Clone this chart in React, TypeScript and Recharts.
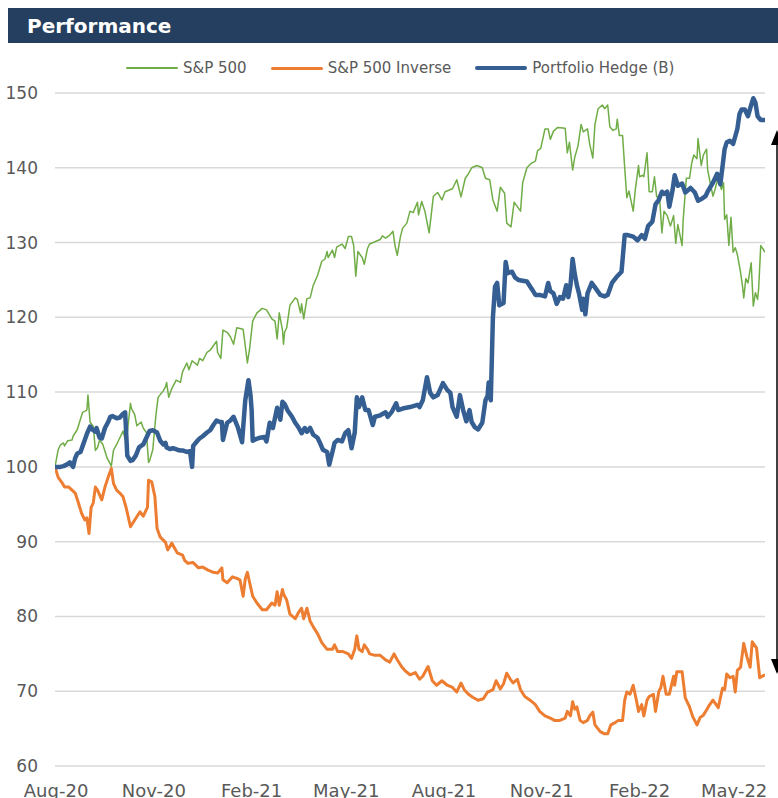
import { CartesianGrid, Line, LineChart, XAxis, YAxis } from "recharts";

// day offset from 31 Jul 2020, value rebased to 100
const spx: [number, number][] = [
  [0,100],[3,102.3],[5,102.9],[8,103.2],[9,102.8],[12,103.5],[16,103.6],[17,104.1],[21,105],[24,106.4],[26,107.3],[30,107.6],[31,109.6],[33,106],[36,105.4],[38,102.2],[40,102.6],[42,103.6],[45,103],[49,101.2],[53,100.1],[55,102.2],[58,103],[61,103.9],[64,104.8],[67,103.2],[71,108.5],[72,107.8],[75,107],[77,105.5],[81,106],[83,105.2],[86,104.6],[88,100.6],[89,100.8],[92,102.3],[95,107],[97,109.3],[102,110.2],[104,110.7],[105,111.3],[107,109.3],[110,110.5],[114,111.6],[118,111.3],[120,112.7],[124,113.9],[126,113],[129,114.2],[134,113.6],[136,114.5],[139,114.2],[143,115.3],[146,115.6],[149,116.2],[152,116.8],[153,115.3],[156,114.5],[158,118.3],[162,118],[165,117.4],[168,116.4],[171,118.6],[177,118.4],[179,116.2],[181,113.9],[183,115.7],[186,119.5],[190,120.6],[195,121.2],[199,121],[204,119.8],[207,119.5],[209,117.1],[211,120.6],[214,118.3],[215,116.4],[216,118],[218,118.6],[221,121.6],[226,122.6],[228,122.4],[231,120.6],[232,121.8],[234,119.8],[237,122.5],[240,122.6],[243,124.3],[247,125.6],[251,127.5],[254,127.8],[256,128.8],[257,128],[261,129],[263,128],[265,129.4],[270,129.8],[273,129.2],[276,130.8],[279,130.8],[281,129.6],[283,125.5],[285,128.8],[289,128],[291,127.1],[294,129.2],[296,129.8],[301,130.1],[306,130.4],[308,130.9],[311,130.6],[315,131],[318,131.5],[320,129.5],[322,128.3],[325,130.8],[327,131.9],[331,132.6],[334,134.2],[337,134],[341,135.4],[342,133.7],[345,135.5],[348,134.2],[352,131.3],[356,136.2],[360,136.7],[364,135.7],[367,136.8],[374,137.2],[378,138.4],[382,136.1],[386,138.6],[389,139.2],[392,140],[397,140.3],[402,140],[405,138.6],[409,138.4],[412,135.7],[416,134.2],[419,137.4],[423,136.6],[425,132.6],[429,132.1],[432,135.4],[438,134.2],[440,138],[444,140],[448,140.6],[452,140.9],[454,142.3],[457,142.6],[461,145.2],[464,145.2],[466,143.8],[469,144.9],[473,145.4],[480,145.3],[482,142],[484,143.4],[487,139.7],[489,141.4],[492,142.9],[495,145.8],[497,144.8],[501,145.2],[503,143.2],[506,141.3],[508,145.8],[511,147.9],[515,148.4],[517,147.9],[520,148.4],[522,145.5],[525,145],[528,145.2],[529,146.5],[531,144.3],[534,144.3],[536,140],[538,136],[540,136.9],[544,134.2],[546,137.1],[549,140.3],[550,138.8],[553,139],[554,138.8],[557,142],[559,136.8],[562,136.8],[564,138.8],[566,136.2],[569,135.6],[571,131.3],[573,134.2],[576,133.6],[579,132.2],[582,133.6],[584,129.9],[586,132.4],[590,129.6],[591,133],[594,138.6],[597,138.6],[599,140.6],[601,141.7],[604,141.2],[605,143.9],[608,140.3],[610,141.7],[613,142.5],[614,139.8],[616,138.3],[619,136.2],[621,137.1],[624,138.8],[627,137.1],[629,138],[630,133.1],[632,133.7],[634,129.6],[636,133.4],[638,128.7],[640,129.3],[642,128.4],[645,126],[647,124],[648,122.6],[650,125.2],[652,124.6],[655,127.3],[657,121.5],[659,123.3],[661,122.4],[662,123.8],[664,129.6],[668,128.7],
];

const spxInverse: [number, number][] = [
  [0,100],[3,98.6],[7,97.8],[9,97.3],[13,97.3],[16,96.9],[19,96.5],[22,95.2],[25,93.8],[28,92.9],[30,93.2],[32,91.1],[34,94.6],[36,95.2],[38,97.3],[40,96.9],[44,95.6],[47,97.3],[50,98.6],[53,99.8],[55,97.8],[58,96.9],[61,96.5],[64,96],[67,94.5],[71,92],[75,92.9],[80,94],[83,93.4],[87,94.6],[88,98.2],[91,98],[94,96],[96,91.8],[99,90.6],[104,89.9],[106,88.9],[110,89.8],[115,88.5],[120,88.2],[122,87.5],[125,87.1],[130,87.2],[135,86.5],[139,86.6],[144,86.2],[149,85.9],[153,85.8],[157,86.5],[158,84.9],[162,84.5],[167,85.3],[171,85.1],[174,84.9],[177,82.7],[179,85],[181,85.9],[183,84.6],[186,82.7],[190,81.8],[195,80.9],[199,80.9],[204,81.8],[207,81.5],[209,83.3],[211,81.5],[214,83.6],[215,83],[218,82.2],[221,80.3],[226,79.7],[229,80.5],[232,81.1],[234,79.7],[237,81.1],[240,79.4],[243,78.6],[247,77.7],[251,76.5],[256,75.6],[261,75.6],[263,76.2],[266,75.3],[271,75.3],[276,75],[279,74.4],[282,75.6],[284,77.4],[286,75.6],[289,75.3],[291,76.2],[294,75.6],[296,75],[301,74.8],[306,74.8],[311,74.2],[315,73.9],[319,75],[322,74.2],[326,73.3],[329,72.8],[334,72.2],[339,72.5],[343,71.6],[346,72],[351,73.3],[355,71.4],[359,70.8],[364,71.4],[369,70.8],[374,70.5],[378,69.9],[382,71.1],[385,70.2],[389,69.6],[393,69.2],[398,68.8],[403,69],[407,69.9],[409,70],[412,70.2],[415,71.4],[419,70.3],[422,71],[425,72.4],[428,71.7],[431,71.1],[435,71.6],[438,70.2],[442,69.3],[447,68.8],[452,68.2],[456,67.3],[461,66.7],[466,66.4],[470,66.1],[475,66.1],[480,66.4],[482,67.3],[485,66.7],[487,68.6],[489,67.6],[491,67.9],[494,66.1],[497,65.8],[501,66.1],[503,66.7],[506,67.2],[508,65.5],[513,64.6],[517,64.3],[520,64.3],[523,65.5],[527,65.8],[530,66.1],[534,66.1],[536,68.8],[538,69.9],[541,69.6],[544,70.8],[547,68.8],[549,67.3],[552,68.2],[554,66.7],[557,68.8],[559,69.3],[563,69.6],[565,67.3],[568,69.9],[570,70.5],[572,72],[575,69.6],[578,69.6],[582,72],[583,70.8],[585,72.6],[590,72.6],[593,69.1],[597,67.9],[600,66.6],[604,65.5],[607,66.5],[610,66.8],[613,67.5],[615,68],[619,68.8],[624,67.8],[628,70.4],[630,70.2],[632,72.3],[635,71.8],[638,72],[640,69.9],[642,72.8],[645,73.2],[648,76.4],[651,74.6],[654,73.2],[656,76.6],[660,75.8],[663,71.8],[668,72.2],
];

const hedge: [number, number][] = [
  [0,100],[5,100],[8,100.1],[11,100.3],[14,100.6],[17,100],[19,101.2],[21,101.8],[24,102],[26,102.8],[30,104.4],[33,105.4],[35,105],[38,104.7],[39,105.2],[42,103.9],[44,103.8],[47,105.2],[50,106],[52,106.7],[54,106.8],[58,106.5],[61,106.6],[64,107.1],[66,107.3],[68,101.5],[71,100.8],[73,100.9],[76,101.5],[79,102.6],[83,103],[87,104.2],[89,104.8],[92,104.9],[96,104.6],[99,103.5],[102,103],[104,103.2],[105,102.6],[108,102.4],[111,102.5],[115,102.3],[118,102.2],[120,102.2],[124,102],[127,102.1],[129,100],[130,102.8],[134,103.5],[136,103.8],[139,104.1],[143,104.6],[146,104.9],[149,105.6],[152,106.2],[155,106],[157,106],[158,103.6],[162,105.9],[165,106.2],[168,106.7],[172,105.3],[176,103.3],[179,108.9],[182,111.6],[184,109.5],[185,107.6],[186,103.5],[189,103.7],[193,103.9],[197,104],[199,103.4],[202,105.9],[205,105.2],[209,107.9],[212,106.3],[214,108.7],[216,108.4],[219,107.5],[223,106.7],[226,105.9],[229,105.3],[232,104.5],[235,105.2],[237,104.7],[240,105.2],[243,104.3],[247,103.9],[249,103.3],[252,102.3],[256,102],[258,100.3],[261,102],[263,103.2],[266,103.6],[270,103.4],[273,104.5],[276,104.9],[279,102.5],[282,104.6],[284,109.3],[286,108],[289,109.3],[292,107.6],[295,107.6],[299,105.6],[301,106.7],[306,106.9],[311,107.3],[313,106.7],[317,107.4],[321,108.5],[323,107.6],[327,107.8],[334,108],[341,108.3],[343,108],[346,108.9],[350,112],[353,109.9],[356,109.3],[360,109.6],[365,111.2],[369,110.3],[372,109.9],[374,108],[378,106.7],[381,109.6],[384,107.6],[387,106.1],[390,107.6],[392,106],[395,105.3],[398,105],[402,105.9],[405,108.9],[407,109.5],[408,111.3],[410,108.9],[412,120],[414,124.1],[416,124.6],[418,121.6],[422,121.9],[424,127.4],[426,125.9],[430,126.1],[433,125.3],[436,125],[440,124.9],[444,124.8],[449,123.7],[452,123],[456,123],[461,122.8],[464,124.6],[466,123.5],[469,123.2],[472,121.8],[475,122.7],[478,122.5],[481,124.3],[483,122.7],[485,124.3],[487,127.8],[489,125.8],[491,124.3],[493,123.2],[496,121],[497,122.5],[499,120.4],[501,123.2],[505,124.6],[508,124],[513,123],[517,122.8],[520,123],[524,124.6],[529,125.5],[533,126.1],[536,131],[539,131],[544,130.8],[548,130.3],[552,131],[555,130.5],[558,132.2],[562,132.8],[565,135.1],[568,135.7],[571,136.8],[573,136.5],[576,136.8],[578,134.8],[581,137],[583,139],[586,137.6],[590,137.9],[593,136.7],[598,137.3],[602,136.7],[605,135.6],[609,135.9],[612,136.2],[614,136.8],[619,138],[623,139.2],[626,137.8],[629,141.3],[630,142.5],[632,143.4],[635,143.6],[638,143.2],[642,145.2],[644,147.2],[646,147.8],[649,147.8],[652,146.9],[655,148.4],[657,149.3],[659,148.7],[661,146.9],[664,146.4],[668,146.4],
];

// month starts, as day offsets
const xTicks = [1, 93, 185, 274, 366, 458, 550, 639];
const xTickLabels = ["Aug-20", "Nov-20", "Feb-21", "May-21", "Aug-21", "Nov-21", "Feb-22", "May-22"];
const yTicks = [60, 70, 80, 90, 100, 110, 120, 130, 140, 150];

const FONT = "'DejaVu Sans', sans-serif";
const TEXT = "#595959";

const series = [
  { name: "S&P 500", data: spx, color: "#70ad47", width: 1.5, legendWidth: 2 },
  { name: "S&P 500 Inverse", data: spxInverse, color: "#ed7d31", width: 3, legendWidth: 3 },
  { name: "Portfolio Hedge (B)", data: hedge, color: "#355f92", width: 4.5, legendWidth: 4 },
];

const toRows = (pts: [number, number][]) => pts.map(([day, v]) => ({ day, v }));

function XTick({ x, y, payload }: any) {
  const i = xTicks.indexOf(payload.value);
  return (
    <text x={x} y={y} dy={29} textAnchor="middle" fill={TEXT} fontSize={18} fontFamily={FONT}>
      {xTickLabels[i]}
    </text>
  );
}

export default function App() {
  return (
    <div style={{ position: "absolute", left: 0, top: 0, width: 778, height: 798, background: "#fff", overflow: "hidden" }}>
      <div
        style={{
          position: "absolute",
          left: 8,
          top: 8,
          width: 770,
          height: 35,
          background: "#243f60",
          color: "#fff",
          fontFamily: FONT,
          fontWeight: 700,
          fontSize: 20,
          lineHeight: "37px",
          paddingLeft: 19,
          boxSizing: "border-box",
        }}
      >
        Performance
      </div>

      <div style={{ position: "absolute", left: 126, top: 58, display: "flex", alignItems: "center", gap: 24, fontFamily: FONT, fontSize: 15, color: TEXT }}>
        {series.map((s) => (
          <div key={s.name} style={{ display: "flex", alignItems: "center", height: 20 }}>
            <div style={{ width: 52, height: s.legendWidth, background: s.color, borderRadius: 2, marginRight: 5 }} />
            <span>{s.name}</span>
          </div>
        ))}
      </div>

      <LineChart width={778} height={798} margin={{ top: 93, right: 13, left: 0, bottom: 0 }}>
        <CartesianGrid vertical={false} stroke="#d9d9d9" strokeWidth={1.5} />
        <XAxis
          type="number"
          dataKey="day"
          domain={[0, 668]}
          ticks={xTicks}
          tick={<XTick />}
          axisLine={false}
          tickLine={false}
          tickSize={0}
          height={32}
          allowDataOverflow
        />
        <YAxis
          domain={[60, 150]}
          ticks={yTicks}
          width={55}
          axisLine={false}
          tickLine={false}
          tickSize={0}
          tickMargin={17}
          tick={{ fill: TEXT, fontSize: 17, fontFamily: FONT }}
        />
        {series.map((s) => (
          <Line
            key={s.name}
            data={toRows(s.data)}
            dataKey="v"
            name={s.name}
            type="linear"
            stroke={s.color}
            strokeWidth={s.width}
            strokeLinejoin="round"
            dot={false}
            isAnimationActive={false}
          />
        ))}
      </LineChart>

      <svg width={778} height={798} style={{ position: "absolute", left: 0, top: 0, pointerEvents: "none" }}>
        <line x1={777} y1={140} x2={777} y2={664} stroke="#000" strokeWidth={1.5} />
        <polygon points="777,130 771,145 783,145" fill="#000" />
        <polygon points="777,674 771,659 783,659" fill="#000" />
      </svg>
    </div>
  );
}
